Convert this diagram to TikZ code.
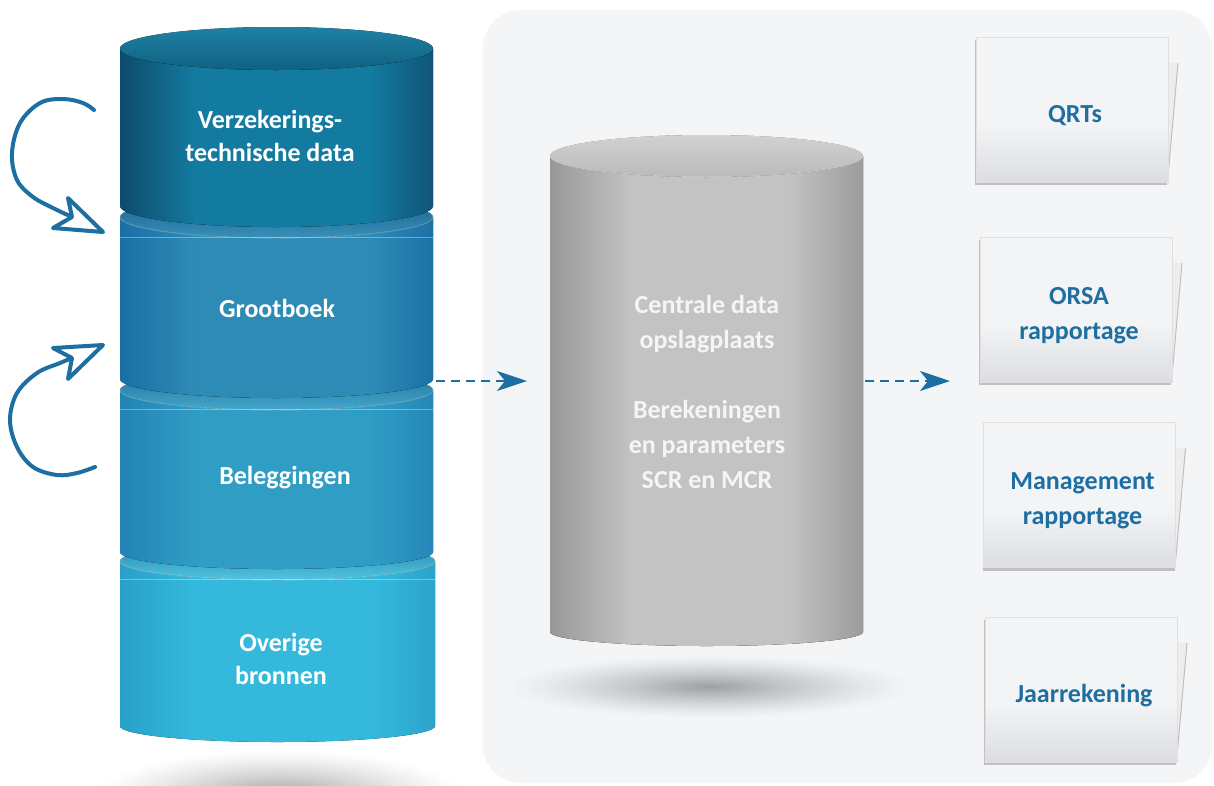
\documentclass[tikz,border=0pt]{standalone}
\usepackage{fontspec}
\setmainfont{Carlito}
\usetikzlibrary{arrows.meta,shadows}

\definecolor{arrowblue}{HTML}{1D6FA1}
\definecolor{doctxt}{HTML}{1E6EA2}
\definecolor{s1e}{HTML}{0D4B6C}\definecolor{s1m}{HTML}{137AA0}\definecolor{s1r}{HTML}{0F5678}
\definecolor{s2e}{HTML}{1A6FA5}\definecolor{s2m}{HTML}{2E8BB6}\definecolor{s2r}{HTML}{1B71A5}
\definecolor{s3e}{HTML}{2283B5}\definecolor{s3m}{HTML}{309DC5}\definecolor{s3r}{HTML}{2587B8}
\definecolor{s4e}{HTML}{29A0C8}\definecolor{s4m}{HTML}{34B9DD}\definecolor{s4r}{HTML}{2CA3CB}
\definecolor{ge}{HTML}{989898}\definecolor{gm}{HTML}{C3C3C3}\definecolor{gr}{HTML}{9C9C9C}
\definecolor{docTop}{HTML}{F3F4F6}\definecolor{docBot}{HTML}{DCDDE0}
\definecolor{bgp}{HTML}{F4F5F6}
\definecolor{shd}{HTML}{A0A1A3}
\definecolor{wh}{HTML}{FFFFFF}

\pgfdeclarehorizontalshading{seg1sh}{100bp}{color(0bp)=(s1e); color(25bp)=(s1e); color(37bp)=(s1m); color(65bp)=(s1m); color(75bp)=(s1r); color(100bp)=(s1r)}
\pgfdeclarehorizontalshading{seg2sh}{100bp}{color(0bp)=(s2e); color(25bp)=(s2e); color(37bp)=(s2m); color(65bp)=(s2m); color(75bp)=(s2r); color(100bp)=(s2r)}
\pgfdeclarehorizontalshading{seg3sh}{100bp}{color(0bp)=(s3e); color(25bp)=(s3e); color(37bp)=(s3m); color(65bp)=(s3m); color(75bp)=(s3r); color(100bp)=(s3r)}
\pgfdeclarehorizontalshading{seg4sh}{100bp}{color(0bp)=(s4e); color(25bp)=(s4e); color(37bp)=(s4m); color(65bp)=(s4m); color(75bp)=(s4r); color(100bp)=(s4r)}
\pgfdeclarehorizontalshading{graysh}{100bp}{color(0bp)=(ge); color(25bp)=(ge); color(38bp)=(gm); color(63bp)=(gm); color(75bp)=(gr); color(100bp)=(gr)}
\pgfdeclareverticalshading{docsh}{100bp}{color(0bp)=(docBot); color(25bp)=(docBot); color(45bp)=(docTop); color(100bp)=(docTop)}

\tikzset{
  cyltext/.style={font=\fontsize{26}{33}\selectfont\bfseries, text=white, align=center, inner sep=0pt},
  storetext/.style={font=\fontsize{26}{35}\selectfont\bfseries, text=white!96!black, align=center, inner sep=0pt},
  doctext/.style={font=\fontsize{26}{35}\selectfont\bfseries, text=doctxt, align=center, inner sep=0pt},
  doc/.style={rectangle, minimum width=192pt, minimum height=145pt, inner sep=0pt,
    shading=docsh, draw=white!88!black, line width=0.5pt,
    drop shadow={shadow xshift=-1pt, shadow yshift=-3pt, opacity=0.3, fill=black!70}},
  backsheet/.style={fill=white!93!black},
  backedge/.style={draw=white!75!black, line width=1pt},
  dasharrow/.style={draw=arrowblue, line width=2.6pt, dash pattern=on 9pt off 6pt,
    -{Stealth[length=30pt, width=20pt, inset=8pt]}},
  curlyarrow/.style={draw=arrowblue, line width=4pt, line cap=round, line join=round},
  rimline/.style={draw=white, draw opacity=0.35, line width=0.7pt},
}

% soft elliptic shadow built from stacked plain ellipses
\newcommand{\softshadow}[6]{%
  \foreach \i in {0,...,29}{%
    \pgfmathsetmacro{\sf}{1-\i/30}%
    \pgfmathsetmacro{\sp}{100*(\i/29)^1.3}%
    \fill[#5!\sp!#6] (#1,#2) ellipse[x radius={#3*\sf}, y radius={#4*\sf}];
  }%
}

% cylinder side: x-left, x-right, y-top, y-bottom, bottom y radius, shading
\newcommand{\cylside}[6]{%
  \fill[shading=#6] (#1,#3) -- (#1,#4) arc[start angle=180, end angle=0, x radius={(#2-#1)/2}, y radius=#5] -- (#2,#3) -- cycle;
}

\newcommand{\docsheet}[4]{%
  \fill[backsheet] ({#2+40},{#3-49}) -- ({#2+106},{#3-46.5}) -- ({#2+96},{#3+66.5}) -- ({#2+40},{#3+66.5}) -- cycle;
  \draw[backedge] ({#2+106},{#3-46.5}) -- ({#2+96},{#3+66.5});
  \node[doc] (#1) at (#2,#3) {};
  \node[doctext] (#1-t) at ([xshift=3pt, yshift=-6pt]#1.center) {#4};
}

\begin{document}
\begin{tikzpicture}[x=1pt, y=-1pt]
\useasboundingbox (0,0) rectangle (1214,785);
\clip (0,0) rectangle (1214,785);
\fill[white] (0,0) rectangle (1214,785);

% background panel
\fill[bgp, rounded corners=38pt] (483,10) rectangle (1212,783);

% shadows
\softshadow{280}{797}{190}{48}{shd}{wh}
\softshadow{710}{687}{210}{32}{shd}{bgp}

% ---- left stacked cylinder ----
% segment 4
\cylside{120}{435}{561}{726}{16}{seg4sh}
\fill[top color=s4e!85!black, bottom color=s4m!85!white] (277.5,561) ellipse[x radius=157.5, y radius=19];
\draw[rimline] (277.5,561) ellipse[x radius=157.5, y radius=19];
\draw[rimline] (120,579) -- (435,579);
% segment 3
\cylside{120}{433}{390}{552}{17}{seg3sh}
\fill[top color=s3e!85!black, bottom color=s3m!90!white] (276.5,390) ellipse[x radius=156.5, y radius=20];
\draw[rimline] (276.5,390) ellipse[x radius=156.5, y radius=20];
\draw[rimline] (120,409) -- (433,409);
% segment 2
\cylside{120}{433}{217}{379}{19}{seg2sh}
\fill[top color=s2e!85!black, bottom color=s2m!95!white] (276.5,217) ellipse[x radius=156.5, y radius=21];
\draw[rimline] (276.5,217) ellipse[x radius=156.5, y radius=21];
\draw[rimline] (120,237) -- (433,237);
% segment 1
\cylside{120}{433}{48.5}{206}{21}{seg1sh}
\fill[top color=s1m!95!white, bottom color=s1m!80!black] (276.5,48.5) ellipse[x radius=156.5, y radius=21.5];

% ---- central grey cylinder ----
\cylside{550}{863}{156}{632}{14}{graysh}
\fill[top color=white!82!black, bottom color=white!73!black] (706.5,156) ellipse[x radius=156.5, y radius=21];
\draw[draw=white, draw opacity=0.4, line width=0.6pt] (706.5,156) ellipse[x radius=156.5, y radius=21];

% texts of the cylinders
\node[cyltext] (vtd) at (270,136) {Verzekerings-\\technische data};
\node[cyltext] (grootboek) at (277,308) {Grootboek};
\node[cyltext] (beleggingen) at (285,478) {Beleggingen};
\node[cyltext] (overige) at (281,659) {Overige\\bronnen};
\node[storetext] (store) at (707,392) {Centrale data\\opslagplaats\\[35pt]Berekeningen\\en parameters\\SCR en MCR};

% ---- report documents ----
\docsheet{qrts}{1072}{109.5}{QRTs}
\docsheet{orsa}{1076}{309.5}{ORSA\\rapportage}
\docsheet{mgmt}{1079.5}{495}{Management\\rapportage}
\docsheet{jaar}{1081}{689.5}{Jaarrekening}

% ---- dashed arrows ----
\coordinate (lout) at (436,381);
\coordinate (lin) at (527,381);
\coordinate (rout) at (865,381);
\coordinate (rin) at (950,381);
\draw[dasharrow] (lout) -- (lin);
\draw[dasharrow] (rout) -- (rin);

% ---- curly arrows ----
\draw[curlyarrow] plot[smooth, tension=0.6] coordinates {(94,110) (83,103) (63,99) (40,103) (20,123) (12,153) (17,180) (33,197) (53,208) (72,217)};
\filldraw[curlyarrow, fill=white] (72,217) -- (68,198) -- (103,232) -- (53,228) -- cycle;
\draw[curlyarrow] plot[smooth, tension=0.6] coordinates {(95,467) (77,473) (57,475) (33,467) (17,447) (10,420) (17,393) (37,373) (60,363) (72,358)};
\filldraw[curlyarrow, fill=white] (72,358) -- (53,348) -- (103,345) -- (68,379) -- cycle;
\end{tikzpicture}
\end{document}
